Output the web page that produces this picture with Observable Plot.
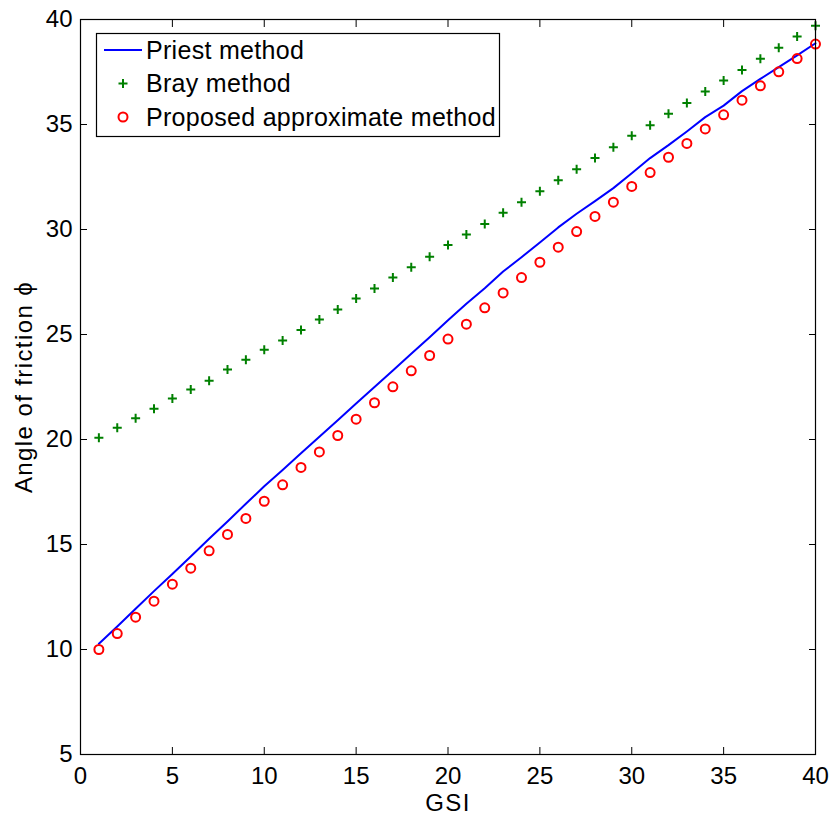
<!DOCTYPE html>
<html><head><meta charset="utf-8">
<script src="https://cdn.jsdelivr.net/npm/d3@7"></script>
<script src="https://cdn.jsdelivr.net/npm/@observablehq/plot@0.6"></script>
<style>
body{margin:0;background:#fff;}
#wrap{position:relative;width:835px;height:816px;font-family:"Liberation Sans",Arial,sans-serif;}
#legend{position:absolute;left:0;top:0;}
#wrap g[aria-label="x-axis label"] text, #wrap g[aria-label="y-axis label"] text{font-size:24px;letter-spacing:1.4px;}
</style></head><body><div id="wrap"></div>
<script>
// ---- data ----
const gsi = [1,2,3,4,5,6,7,8,9,10,11,12,13,14,15,16,17,18,19,20,21,22,23,24,25,26,27,28,29,30,31,32,33,34,35,36,37,38,39,40];
const priest = [10.27,11.10,11.94,12.78,13.60,14.43,15.27,16.10,16.94,17.77,18.55,19.34,20.13,20.92,21.71,22.50,23.29,24.08,24.87,25.68,26.46,27.20,28.00,28.68,29.38,30.10,30.75,31.35,31.97,32.68,33.40,34.02,34.67,35.35,35.90,36.59,37.17,37.73,38.29,38.87];
const bray = [20.08,20.56,21.01,21.46,21.95,22.38,22.80,23.33,23.80,24.27,24.71,25.22,25.71,26.19,26.71,27.19,27.71,28.20,28.70,29.26,29.76,30.26,30.80,31.30,31.82,32.35,32.87,33.40,33.92,34.47,34.97,35.51,36.02,36.57,37.10,37.59,38.13,38.65,39.19,39.70];
const proposed = [10.00,10.76,11.54,12.30,13.11,13.87,14.70,15.48,16.24,17.06,17.84,18.67,19.41,20.19,20.97,21.75,22.51,23.27,24.00,24.78,25.49,26.27,26.98,27.71,28.44,29.16,29.90,30.62,31.30,32.05,32.71,33.44,34.10,34.79,35.46,36.16,36.84,37.51,38.14,38.83];
const xTicks = [0,5,10,15,20,25,30,35,40];
const yTicks = [5,10,15,20,25,30,35,40];
const seriesNames = ["Priest method","Bray method","Proposed approximate method"];
const seriesColors = ["#0000ff","#008000","#ff0000"];
const xLabel = "GSI";
const yLabel = "Angle of friction ϕ";

const rows = gsi.map((g,i)=>({gsi:g, priest:priest[i], bray:bray[i], proposed:proposed[i]}));

const cross = {draw(ctx,size){const r=Math.sqrt(size/Math.PI);ctx.moveTo(-r,0);ctx.lineTo(r,0);ctx.moveTo(0,-r);ctx.lineTo(0,r);}};
const FONT = "'Liberation Sans', Arial, sans-serif";

const chart = Plot.plot({
  width:835, height:816, marginLeft:80, marginRight:20, marginTop:19, marginBottom:62,
  style:{fontFamily:FONT, fontSize:"24px", color:"#000", background:"#fff"},
  x:{domain:[0,40]},
  y:{domain:[5,40]},
  marks:[
    Plot.line(rows,{x:"gsi",y:"priest",stroke:seriesColors[0],strokeWidth:2}),
    Plot.dot(rows,{x:"gsi",y:"bray",symbol:cross,r:4.5,stroke:seriesColors[1],fill:"none",strokeWidth:2}),
    Plot.dot(rows,{x:"gsi",y:"proposed",r:4.5,stroke:seriesColors[2],fill:"none",strokeWidth:2}),
    Plot.frame({stroke:"#000",strokeWidth:1.2}),
    Plot.axisX(xTicks,{anchor:"bottom",tickSize:-7,tickPadding:19,label:xLabel,labelAnchor:"center",labelArrow:"none",labelOffset:56}),
    Plot.axisX(xTicks,{anchor:"top",tickSize:-7,tickFormat:()=>"",label:null}),
    Plot.axisY(yTicks,{anchor:"left",tickSize:-7,tickPadding:15,label:yLabel,labelAnchor:"center",labelArrow:"none",labelOffset:66}),
    Plot.axisY(yTicks,{anchor:"right",tickSize:-7,tickFormat:()=>"",label:null})
  ]
});
const wrap = document.getElementById("wrap");
wrap.appendChild(chart);

// legend overlay
const lg = d3.select(wrap).append("svg").attr("id","legend").attr("width",835).attr("height",816)
  .style("font-family",FONT).style("font-size","25px").style("letter-spacing","0.3px");
lg.append("rect").attr("x",96.5).attr("y",33.5).attr("width",403).attr("height",103).attr("fill","#fff").attr("stroke","#000").attr("stroke-width",1.2);
const rowY = [50,83.5,117];
seriesNames.forEach((name,i)=>{
  const g = lg.append("g").attr("transform",`translate(0,${rowY[i]})`);
  if(i===0) g.append("line").attr("x1",104).attr("x2",142).attr("stroke",seriesColors[0]).attr("stroke-width",2);
  if(i===1) g.append("path").attr("d","M118.5,0H127.5M123,-4.5V4.5").attr("stroke",seriesColors[1]).attr("stroke-width",2);
  if(i===2) g.append("circle").attr("cx",123).attr("r",4.5).attr("fill","none").attr("stroke",seriesColors[2]).attr("stroke-width",2);
  g.append("text").attr("x",146).attr("dy","0.35em").text(name);
});
</script>
</body></html>
